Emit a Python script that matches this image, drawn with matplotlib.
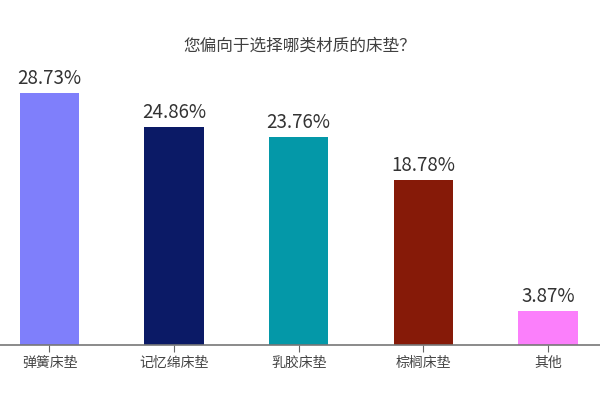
import matplotlib.pyplot as plt

plt.rcParams['font.family'] = ['Noto Sans CJK SC', 'DejaVu Sans']

categories = ['弹簧床垫', '记忆绵床垫', '乳胶床垫', '棕榈床垫', '其他']
values = [28.73, 24.86, 23.76, 18.78, 3.87]
colors = ['#7f7ffb', '#0b1a66', '#0498a8', '#861a08', '#fb7ffb']
title = '您偏向于选择哪类材质的床垫？'

fig = plt.figure(figsize=(6, 4), dpi=100)
# axis baseline at y=345px, bar top 28.73% at y=93px
ax = fig.add_axes([0, 55 / 400, 1, (345 - 55) / 400])

x = list(range(len(categories)))
ax.bar(x, values, width=0.475, color=colors)

for xi, v in zip(x, values):
    ax.text(xi, v + 0.45, f'{v:.2f}%', ha='center', va='bottom',
            fontsize=13.5, color='#333333')

# pixel 0 -> -0.397, pixel 600 -> 4.418
ax.set_xlim(-0.397, 4.418)
ax.set_ylim(0, 28.73 * 290 / 252)

ax.set_xticks(x)
ax.set_xticklabels(categories, fontsize=10, color='#444444')
ax.tick_params(axis='x', length=5, color='#666666', pad=3)
ax.set_yticks([])

for side in ['top', 'right', 'left']:
    ax.spines[side].set_visible(False)
ax.spines['bottom'].set_color('#777777')
ax.spines['bottom'].set_linewidth(1.2)

fig.text(0.5, 1 - 46 / 400, title, ha='center', va='center',
         fontsize=12, color='#404040')

fig.savefig('out.png', dpi=100)
